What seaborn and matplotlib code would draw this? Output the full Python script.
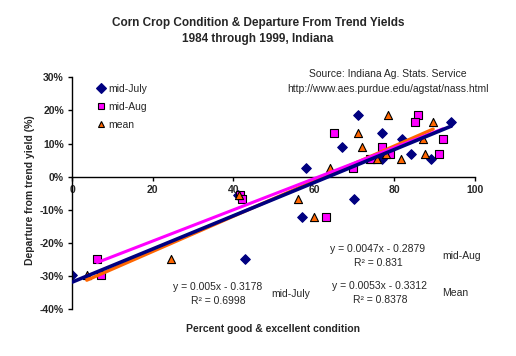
import numpy as np
import pandas as pd
import seaborn as sns
import matplotlib.pyplot as plt
from matplotlib.lines import Line2D
from matplotlib.ticker import PercentFormatter, MultipleLocator

# departure from trend yield (fraction), one value per year
departure = [0.185, 0.164, 0.133, 0.115, 0.091, 0.068, 0.068, 0.053, 0.053, 0.027,
             -0.055, -0.066, -0.123, -0.249, -0.295]
# percent good & excellent condition for the same years
mid_july = [71.0, 94.1, 77.0, 81.9, 67.0, 84.2, 76.8, 89.0, 77.0, 58.0, 41.2, 70.0, 57.1, 42.9, 0.0]
mid_aug = [85.9, 85.0, 64.9, 92.0, 76.8, 91.0, 78.8, 74.0, 74.2, 69.8, 41.6, 42.2, 63.0, 6.2, 7.1]
mean_cond = [78.5, 89.6, 71.0, 87.1, 72.0, 87.6, 77.8, 81.5, 75.6, 64.0, 41.4, 56.1, 60.1, 24.6, 3.6]

series = ['mid-July', 'mid-Aug', 'mean']
eq_names = ['mid-July', 'mid-Aug', 'Mean']
slopes = [0.005, 0.0047, 0.0053]
intercepts = [-0.3178, -0.2879, -0.3312]
r_squared = ['0.6998', '0.831', '0.8378']

#Long table for seaborn
df = pd.DataFrame({
    'condition': mid_july + mid_aug + mean_cond,
    'departure': departure * 3,
    'series': [s for s in series for _ in departure],
})

sns.set_style('white')
plt.rcParams['font.family'] = ['Liberation Sans', 'DejaVu Sans']
plt.rcParams['axes.unicode_minus'] = False

W, H = 516, 356
fig = plt.figure(figsize=(W / 100, H / 100), dpi=100)
ax = fig.add_axes([72.3 / W, 1 - 309.3 / H, (475 - 72.3) / W, (309.3 - 77.3) / H])

colors = {'mid-July': '#000080', 'mid-Aug': '#FF00FF', 'mean': '#FF6600'}
edges = {'mid-July': '#000080', 'mid-Aug': 'black', 'mean': 'black'}
markers = {'mid-July': 'D', 'mid-Aug': 's', 'mean': '^'}
sizes = {'mid-July': 24, 'mid-Aug': 30, 'mean': 34}

for s in series:
    sub = df[df['series'] == s]
    sns.scatterplot(data=sub, x='condition', y='departure', marker=markers[s], color=colors[s],
                    edgecolor=edges[s], linewidth=0.8, s=sizes[s], ax=ax, zorder=2, legend=False)

#Trend lines over each series' own range
line_order = ['mean', 'mid-Aug', 'mid-July']
lw = {'mid-July': 2.6, 'mid-Aug': 2.2, 'mean': 2.4}
for s in line_order:
    i = series.index(s)
    xs = df.loc[df['series'] == s, 'condition']
    xx = np.array([xs.min(), xs.max()])
    sns.lineplot(x=xx, y=slopes[i] * xx + intercepts[i], color=colors[s], linewidth=lw[s], ax=ax, zorder=3)

ax.set_xlim(0, 100)
ax.set_ylim(-0.4, 0.3)
ax.xaxis.set_major_locator(MultipleLocator(20))
ax.yaxis.set_major_locator(MultipleLocator(0.1))
ax.yaxis.set_major_formatter(PercentFormatter(1.0, decimals=0))
ax.spines['top'].set_visible(False)
ax.spines['right'].set_visible(False)
ax.spines['bottom'].set_position(('data', 0))
for sp in ['left', 'bottom']:
    ax.spines[sp].set_color('black')
    ax.spines[sp].set_linewidth(1)
ax.tick_params(axis='both', direction='out', length=3, width=1, color='black', pad=3,
               labelsize=7.5, bottom=True, left=True)
for lab in ax.get_xticklabels() + ax.get_yticklabels():
    lab.set_fontweight('bold')
ax.set_xlabel('')
ax.set_ylabel('')


def ftext(x, y, s, **kw):
    fig.text(x / W, 1 - y / H, s, **kw)


ftext(258, 23, 'Corn Crop Condition & Departure From Trend Yields', ha='center', va='center',
      fontsize=8.5, fontweight='bold')
ftext(258, 39, '1984 through 1999, Indiana', ha='center', va='center', fontsize=8.5, fontweight='bold')
ftext(387.5, 74, 'Source: Indiana Ag. Stats. Service', ha='center', va='center', fontsize=7.5)
ftext(387.5, 89, 'http://www.aes.purdue.edu/agstat/nass.html', ha='center', va='center', fontsize=7.5)

ftext(272.5, 329, 'Percent good & excellent condition', ha='center', va='center', fontsize=7.5,
      fontweight='bold')
ftext(30, 190, 'Departure from trend yield (%)', ha='center', va='center', fontsize=7.5,
      fontweight='bold', rotation=90)

#Trend line equations
eq_pos = {'mid-July': (218, 287, 291), 'mid-Aug': (378, 249, 462), 'mean': (380, 286, 455)}
for i, s in enumerate(series):
    cx, cy, nx = eq_pos[s]
    ftext(cx, cy, 'y = %gx - %g' % (slopes[i], -intercepts[i]), ha='center', va='center', fontsize=7.5)
    ftext(cx, cy + 14, 'R² = ' + r_squared[i], ha='center', va='center', fontsize=7.5)
    ftext(nx, cy + 7, eq_names[i], ha='center', va='center', fontsize=7.5)

handles = [Line2D([], [], linestyle='none', marker=markers[s], markerfacecolor=colors[s],
                  markeredgecolor=edges[s], markersize=5, markeredgewidth=0.8) for s in series]
ax.legend(handles, series, loc='upper left', bbox_to_anchor=(97 / W, 1 - 84 / H),
          bbox_transform=fig.transFigure, frameon=False, fontsize=7.5, handlelength=0.8,
          handletextpad=0.3, labelspacing=0.75, borderpad=0, borderaxespad=0)

fig.savefig('out.png', dpi=100)
